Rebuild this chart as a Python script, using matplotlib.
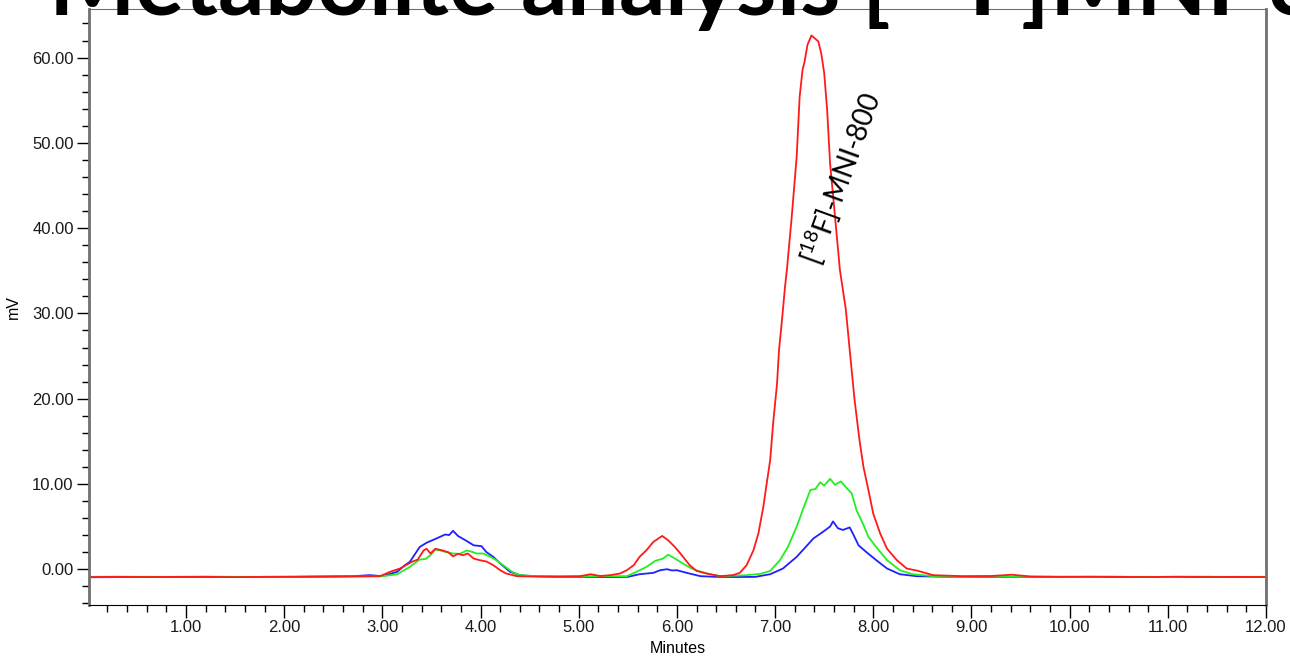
import matplotlib
matplotlib.use("Agg")
import matplotlib.pyplot as plt
from matplotlib.ticker import MultipleLocator, FormatStrFormatter

plt.rcParams['font.family'] = ['Liberation Sans', 'DejaVu Sans']
plt.rcParams['mathtext.fontset'] = 'custom'
plt.rcParams['mathtext.rm'] = 'Lato'
plt.rcParams['mathtext.bf'] = 'Lato:bold'

# retention time (min) / signal (mV)
blue_t = [0.01, 0.3, 0.6, 0.9, 1.2, 1.5, 1.8, 2.1, 2.4, 2.7, 2.87, 3.0, 3.15, 3.23, 3.28,
          3.38, 3.45, 3.55, 3.64, 3.68, 3.72, 3.77, 3.86, 3.93, 4.01, 4.06, 4.13, 4.20,
          4.30, 4.40, 4.50, 4.7, 4.9, 5.1, 5.3, 5.5, 5.62, 5.76, 5.83, 5.90, 5.95, 6.00,
          6.10, 6.24, 6.4, 6.6, 6.8, 6.95, 7.08, 7.22, 7.39, 7.49, 7.56, 7.59, 7.64, 7.69,
          7.76, 7.80, 7.85, 7.93, 8.03, 8.14, 8.27, 8.44, 8.7, 9.0, 9.3, 9.6, 9.9, 10.2,
          10.5, 10.8, 11.1, 11.4, 11.7, 12.0]
blue_mv = [-0.95, -0.93, -0.9, -0.92, -0.9, -0.93, -0.9, -0.88, -0.85, -0.82, -0.7, -0.82,
           -0.31, 0.47, 0.86, 2.6, 3.1, 3.6, 4.07, 4.0, 4.5, 3.9, 3.3, 2.8, 2.7, 2.0, 1.45,
           0.67, -0.3, -0.7, -0.8, -0.85, -0.88, -0.9, -0.92, -0.9, -0.59, -0.43, -0.12,
           0.0, -0.15, -0.12, -0.43, -0.82, -0.9, -0.92, -0.9, -0.59, 0.08, 1.45, 3.6, 4.4,
           5.0, 5.6, 4.8, 4.6, 4.9, 4.0, 2.8, 2.0, 1.06, 0.08, -0.59, -0.82, -0.88, -0.9,
           -0.9, -0.92, -0.9, -0.9, -0.92, -0.9, -0.93, -0.9, -0.92, -0.9]

green_t = [0.01, 0.3, 0.6, 0.9, 1.2, 1.5, 1.8, 2.1, 2.4, 2.7, 2.98, 3.15, 3.28, 3.38, 3.44,
           3.49, 3.54, 3.59, 3.65, 3.72, 3.79, 3.86, 3.91, 3.96, 4.03, 4.10, 4.16, 4.23,
           4.32, 4.40, 4.55, 4.8, 5.0, 5.2, 5.49, 5.59, 5.69, 5.78, 5.86, 5.91, 5.98, 6.06,
           6.15, 6.24, 6.34, 6.44, 6.6, 6.71, 6.85, 6.95, 7.05, 7.13, 7.22, 7.30, 7.36,
           7.41, 7.46, 7.50, 7.56, 7.61, 7.67, 7.73, 7.78, 7.83, 7.90, 7.95, 8.03, 8.14,
           8.27, 8.40, 8.61, 8.9, 9.2, 9.5, 9.8, 10.1, 10.4, 10.7, 11.0, 11.3, 11.6, 12.0]
green_mv = [-0.9, -0.88, -0.9, -0.9, -0.87, -0.9, -0.9, -0.9, -0.88, -0.85, -0.85, -0.6,
            0.27, 1.13, 1.2, 1.64, 2.3, 2.2, 2.0, 1.84, 1.8, 2.2, 2.05, 1.84, 1.84, 1.45,
            1.06, 0.47, -0.3, -0.7, -0.8, -0.82, -0.8, -0.82, -0.82, -0.3, 0.27, 0.98, 1.25,
            1.7, 1.25, 0.67, 0.08, -0.3, -0.6, -0.82, -0.75, -0.7, -0.55, -0.2, 1.06, 2.6,
            5.0, 7.5, 9.3, 9.4, 10.2, 9.8, 10.6, 9.9, 10.3, 9.5, 8.9, 6.9, 5.2, 3.8, 2.6,
            1.06, -0.12, -0.59, -0.82, -0.88, -0.85, -0.9, -0.88, -0.9, -0.88, -0.9, -0.92,
            -0.88, -0.9, -0.9]

red_t = [0.01, 0.3, 0.6, 0.9, 1.2, 1.5, 1.8, 2.1, 2.4, 2.7, 2.98, 3.08, 3.18, 3.30, 3.36,
         3.42, 3.45, 3.49, 3.54, 3.61, 3.67, 3.72, 3.77, 3.82, 3.87, 3.93, 3.99, 4.06,
         4.13, 4.20, 4.26, 4.37, 4.6, 4.8, 5.0, 5.12, 5.22, 5.32, 5.42, 5.49, 5.56, 5.62,
         5.69, 5.76, 5.85, 5.91, 5.98, 6.05, 6.13, 6.20, 6.30, 6.44, 6.57, 6.64, 6.71,
         6.78, 6.83, 6.88, 6.91, 6.95, 6.98, 7.02, 7.04, 7.07, 7.10, 7.12, 7.17, 7.22,
         7.25, 7.28, 7.30, 7.33, 7.37, 7.40, 7.44, 7.47, 7.50, 7.53, 7.56, 7.61, 7.66,
         7.72, 7.76, 7.81, 7.86, 7.90, 7.95, 8.00, 8.07, 8.14, 8.24, 8.34, 8.44, 8.61,
         8.9, 9.2, 9.41, 9.6, 9.9, 10.2, 10.5, 10.8, 11.1, 11.4, 11.7, 12.0]
red_mv = [-0.92, -0.9, -0.92, -0.9, -0.9, -0.93, -0.9, -0.9, -0.88, -0.85, -0.8, -0.3,
          0.08, 0.86, 1.13, 2.2, 2.4, 1.84, 2.4, 2.2, 2.0, 1.5, 1.8, 1.64, 1.84, 1.25, 1.06,
          0.9, 0.47, -0.12, -0.5, -0.82, -0.88, -0.9, -0.85, -0.59, -0.8, -0.7, -0.51,
          -0.12, 0.47, 1.45, 2.23, 3.2, 3.9, 3.4, 2.6, 1.64, 0.47, -0.2, -0.5, -0.82, -0.7,
          -0.43, 0.47, 2.23, 4.2, 7.3, 9.7, 12.8, 17.1, 21.8, 25.7, 29.2, 33.0, 35.1, 41.4,
          48.4, 55.4, 58.6, 59.5, 61.5, 62.6, 62.3, 61.9, 60.5, 58.2, 53.9, 47.6, 41.4,
          35.1, 30.5, 25.7, 19.8, 15.1, 12.0, 9.3, 6.5, 4.2, 2.4, 1.06, 0.08, -0.15, -0.7,
          -0.82, -0.8, -0.65, -0.85, -0.9, -0.88, -0.9, -0.92, -0.88, -0.92, -0.9, -0.92]

fig = plt.figure(figsize=(12.9, 6.56), dpi=100)
ax = fig.add_axes([89 / 1290, 51 / 656, 1177 / 1290, 596 / 656])

ax.plot(blue_t, blue_mv, color='#2020ff', lw=1.3)
ax.plot(green_t, green_mv, color='#22ee22', lw=1.3)
ax.plot(red_t, red_mv, color='#ff1a1a', lw=1.3)

ax.set_xlim(0.012, 12.0)
ax.set_ylim(-4.2, 65.7)
ax.xaxis.set_major_locator(MultipleLocator(1))
ax.xaxis.set_minor_locator(MultipleLocator(0.2))
ax.yaxis.set_major_locator(MultipleLocator(10))
ax.yaxis.set_minor_locator(MultipleLocator(2))
ax.xaxis.set_major_formatter(FormatStrFormatter('%.2f'))
ax.yaxis.set_major_formatter(FormatStrFormatter('%.2f'))
ax.tick_params(which='major', direction='out', length=9, width=1, labelsize=12,
               labelcolor='#1a1a1a', pad=2)
ax.tick_params(which='minor', direction='out', length=5, width=1)
ax.set_xticks([t for t in range(1, 13)])

for side in ['left', 'right']:
    ax.spines[side].set_color('#707070')
    ax.spines[side].set_linewidth(2)
ax.spines['top'].set_color('#707070')
ax.spines['bottom'].set_color('black')

ax.set_xlabel('Minutes', fontsize=11.5, labelpad=4)
ax.set_ylabel('mV', fontsize=11.5, labelpad=8)

ax.text(7.67, 45.9, r'[$^{\mathregular{18}}$F]-MNI-800', rotation=70, ha='center',
        va='center', rotation_mode='anchor', fontsize=20, family='Lato')

fig.text(48 / 1290, 1 - 16 / 656, r'Metabolite analysis [$^{\mathbf{18}}$F]MNI-800',
         fontsize=66, fontweight='bold', family='Lato', va='baseline', ha='left')

fig.savefig('out.png', dpi=100)
